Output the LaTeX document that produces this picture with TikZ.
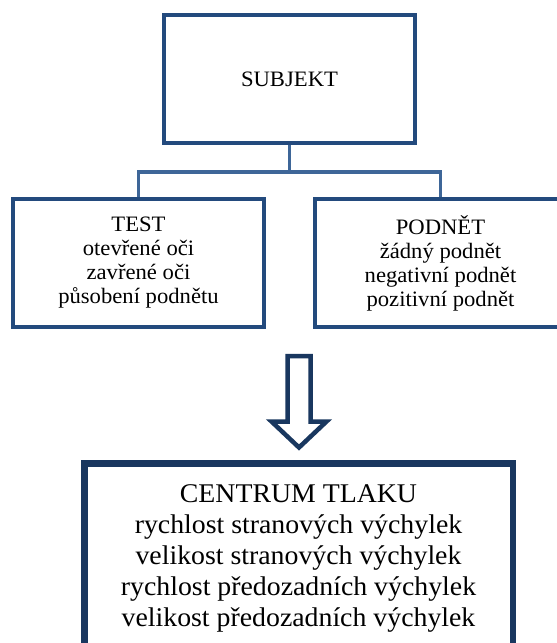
\documentclass[tikz,border=0pt]{standalone}
\usepackage{fontspec}
\setmainfont{Liberation Serif}[FakeStretch=1.03]
\usepackage{xcolor}
\usetikzlibrary{calc}
\definecolor{ramecek}{RGB}{35,74,125}
\definecolor{modraspoj}{RGB}{62,102,152}
\definecolor{tmava}{RGB}{25,55,95}

\begin{document}
\begin{tikzpicture}[x=1pt, y=-1pt, line width=3.5pt,
		blok/.style={draw=ramecek, line width=3.5pt, minimum width=251pt,
			minimum height=128pt, align=center, inner sep=0pt,
			font=\fontsize{22}{24}\selectfont},
		hlavni/.style={draw=tmava, line width=6.5pt, minimum width=428.5pt,
			minimum height=190pt, align=center, anchor=north,
			font=\fontsize{27}{31}\selectfont},
		spoj/.style={draw=modraspoj, line width=3.5pt},
		sipka/.style={draw=tmava, fill=white, line width=4.5pt, line join=miter}]
		\clip (0, 0) rectangle (557, 643);

		\node[blok] (subjekt) at (289.5, 79) {SUBJEKT};
		\node[blok] (test) at (138.5, 263) {TEST\\ otevřené oči\\ zavřené oči\\ působení podnětu};
		\node[blok] (podnet) at (440.5, 263) {PODNĚT\\ žádný podnět\\ negativní podnět\\ pozitivní podnět};
		\node[hlavni] (centrum) at (298.5, 460.25) {CENTRUM TLAKU\\ rychlost stranových výchylek\\
			velikost stranových výchylek\\ rychlost předozadních výchylek\\ velikost předozadních výchylek};

		\coordinate (rozcesti) at ($(subjekt.south) + (0, 27)$);
		\draw[spoj] (subjekt.south) -- (rozcesti);
		\draw[spoj] (rozcesti) -| (test.north);
		\draw[spoj] (rozcesti) -| (podnet.north);

		% blokova sipka dolu
		\draw[sipka] (287.5, 356) -- (310.5, 356) -- (310.5, 421.5) -- (326.5, 421.5)
			-- (299, 447.5) -- (271.5, 421.5) -- (287.5, 421.5) -- cycle;
	\end{tikzpicture}
\end{document}
